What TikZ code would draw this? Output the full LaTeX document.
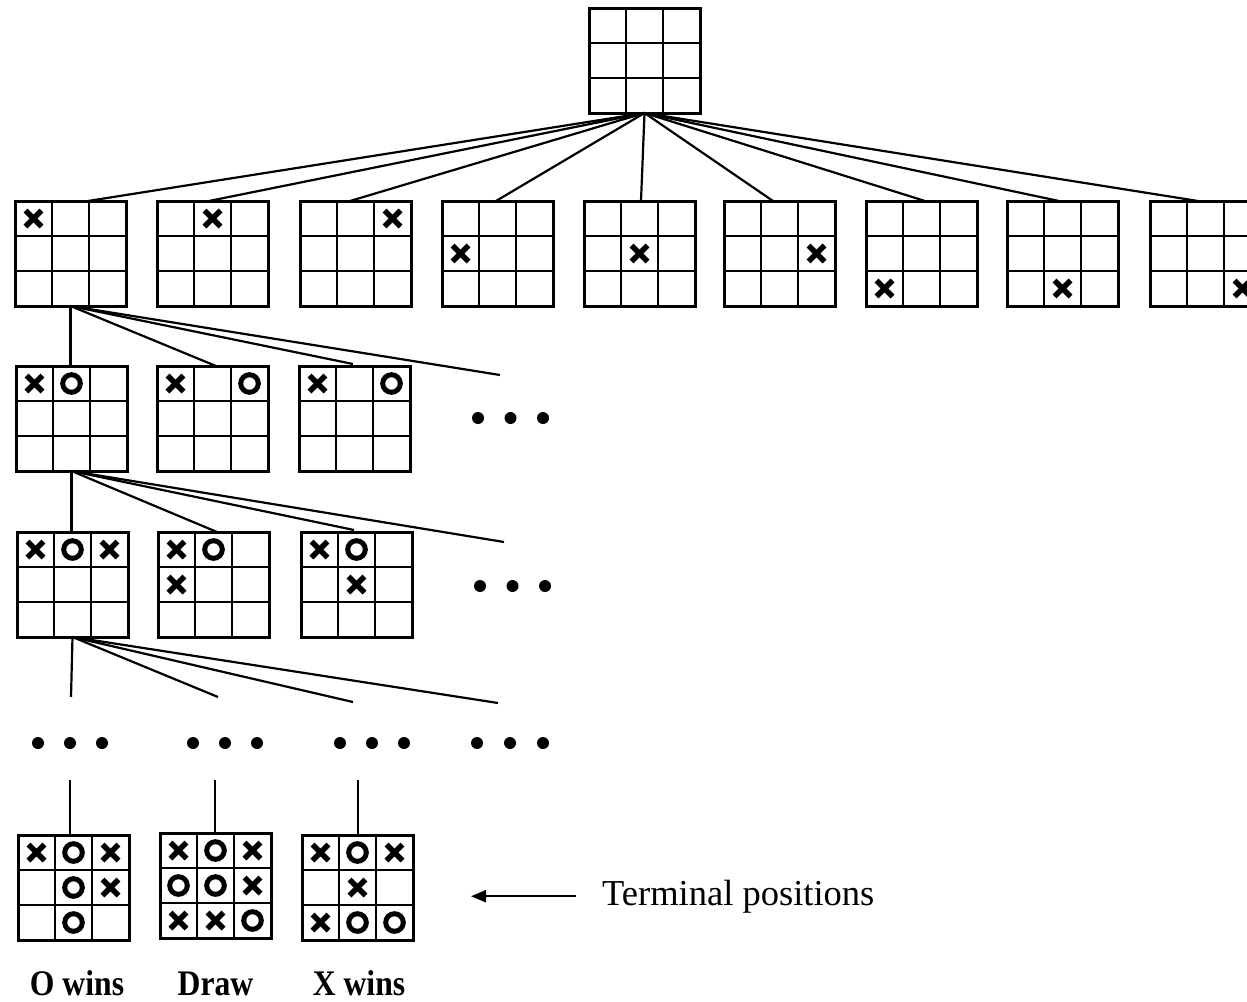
\documentclass[tikz,border=0pt]{standalone}
\usepackage{fontspec}
\setmainfont{Liberation Serif}
\usetikzlibrary{calc,arrows.meta}
\tikzset{
  boardbox/.style={draw, line width=3pt, minimum width=111pt, minimum height=105pt, inner sep=0pt, outer sep=0pt},
  gridline/.style={line width=2.8pt},
  xmark/.style={line width=5.5pt},
  omark/.style={line width=5pt},
  conn/.style={line width=2.2pt},
  dotmark/.style={fill=black},
  lbl/.style={anchor=base, inner sep=0pt, font=\bfseries\fontsize{36}{40}\selectfont},
}
\newcommand\ttboard[3]{%
  \node[boardbox] (#1) at ({#2+55.5},{#3+52.5}) {};
  \draw[gridline] ($(#1.north west)+(37,0)$) -- ($(#1.south west)+(37,0)$)
    ($(#1.north west)+(74,0)$) -- ($(#1.south west)+(74,0)$)
    ($(#1.north west)+(0,35)$) -- ($(#1.north east)+(0,35)$)
    ($(#1.north west)+(0,70)$) -- ($(#1.north east)+(0,70)$);
}
\newcommand\Xm[3]{\draw[xmark] ($(#1.north west)+({18.5+37*#3-8},{17.5+35*#2-8})$) -- ++(16,16) ++(0,-16) -- ++(-16,16);}
\newcommand\Om[3]{\draw[omark] ($(#1.north west)+({18.5+37*#3},{17.5+35*#2})$) circle[radius=8.8];}
\begin{document}
\begin{tikzpicture}[x=1pt,y=-1pt]
\useasboundingbox (0,0) rectangle (1247,1001);
\clip (0,0) rectangle (1247,1001);
\fill[white] (0,0) rectangle (1247,1001);
% root
\ttboard{b0}{589}{8}
% row 1
\ttboard{a1}{15}{201}   \Xm{a1}{0}{0}
\ttboard{a2}{157}{201}  \Xm{a2}{0}{1}
\ttboard{a3}{300}{201}  \Xm{a3}{0}{2}
\ttboard{a4}{442}{201}  \Xm{a4}{1}{0}
\ttboard{a5}{584}{201}  \Xm{a5}{1}{1}
\ttboard{a6}{724}{201}  \Xm{a6}{1}{2}
\ttboard{a7}{866}{201}  \Xm{a7}{2}{0}
\ttboard{a8}{1007}{201} \Xm{a8}{2}{1}
\ttboard{a9}{1150}{201} \Xm{a9}{2}{2}
\foreach \n/\o in {a1/73,a2/52,a3/50,a4/54,a5/57,a6/49,a7/59,a8/52,a9/48}
  \draw[conn] (b0.south) -- ($(\n.north west)+(\o,0)$);
% row 2
\ttboard{c1}{16}{366}  \Xm{c1}{0}{0} \Om{c1}{0}{1}
\ttboard{c2}{157}{366} \Xm{c2}{0}{0} \Om{c2}{0}{2}
\ttboard{c3}{299}{366} \Xm{c3}{0}{0} \Om{c3}{0}{2}
\coordinate (c4) at (500,375);
\draw[conn] (a1.south) -- (a1.south |- c1.north);
\draw[conn] (a1.south) -- ($(c2.north west)+(59,0)$);
\draw[conn] (a1.south) -- ($(c3.north west)+(54,-2)$);
\draw[conn] (a1.south) -- (c4);
\foreach \x in {478,510.5,543} \fill[dotmark] (\x,418) circle[radius=6];
% row 3
\ttboard{d1}{17}{532}  \Xm{d1}{0}{0} \Om{d1}{0}{1} \Xm{d1}{0}{2}
\ttboard{d2}{158}{532} \Xm{d2}{0}{0} \Om{d2}{0}{1} \Xm{d2}{1}{0}
\ttboard{d3}{301}{532} \Xm{d3}{0}{0} \Om{d3}{0}{1} \Xm{d3}{1}{1}
\coordinate (d4) at (504,542);
\draw[conn] (c1.south) -- (c1.south |- d1.north);
\draw[conn] (c1.south) -- ($(d2.north west)+(59,0)$);
\draw[conn] (c1.south) -- ($(d3.north west)+(53,-2)$);
\draw[conn] (c1.south) -- (d4);
\foreach \x in {480,512.5,545} \fill[dotmark] (\x,586) circle[radius=6];
% row 4 (dots)
\coordinate (e1) at (71,697);
\coordinate (e2) at (218,697);
\coordinate (e3) at (353,702);
\coordinate (e4) at (498,703);
\foreach \e in {e1,e2,e3,e4} \draw[conn] (d1.south) -- (\e);
\foreach \x in {38,70,102, 193,225,257, 340,372,404, 477,510,543}
  \fill[dotmark] (\x,743) circle[radius=6];
% terminal positions
\ttboard{t1}{18}{835}
\Xm{t1}{0}{0} \Om{t1}{0}{1} \Xm{t1}{0}{2}
\Om{t1}{1}{1} \Xm{t1}{1}{2}
\Om{t1}{2}{1}
\ttboard{t2}{160}{833}
\Xm{t2}{0}{0} \Om{t2}{0}{1} \Xm{t2}{0}{2}
\Om{t2}{1}{0} \Om{t2}{1}{1} \Xm{t2}{1}{2}
\Xm{t2}{2}{0} \Xm{t2}{2}{1} \Om{t2}{2}{2}
\ttboard{t3}{302}{835}
\Xm{t3}{0}{0} \Om{t3}{0}{1} \Xm{t3}{0}{2}
\Xm{t3}{1}{1}
\Xm{t3}{2}{0} \Om{t3}{2}{1} \Om{t3}{2}{2}
\coordinate (f1) at (70,780);
\coordinate (f2) at (215,780);
\coordinate (f3) at (358,780);
\draw[conn] (f1) -- (f1 |- t1.north);
\draw[conn] (f2) -- (f2 |- t2.north);
\draw[conn] (f3) -- (f3 |- t3.north);
% labels
\node[lbl] (l1) at (77,995) {\scalebox{0.88}[1]{O wins}};
\node[lbl] (l2) at (215.5,995) {\scalebox{0.88}[1]{Draw}};
\node[lbl] (l3) at (359,995) {\scalebox{0.88}[1]{X wins}};
\node[anchor=base west, inner sep=0pt, font=\fontsize{36.5}{40}\selectfont] (tp) at (602,905) {Terminal positions};
\coordinate (arrE) at (471,898);
\draw[conn,-{Triangle[length=15pt,width=12pt]}] ($(tp.west)+(-26,0)$) -- (arrE |- tp.west);
\end{tikzpicture}
\end{document}
